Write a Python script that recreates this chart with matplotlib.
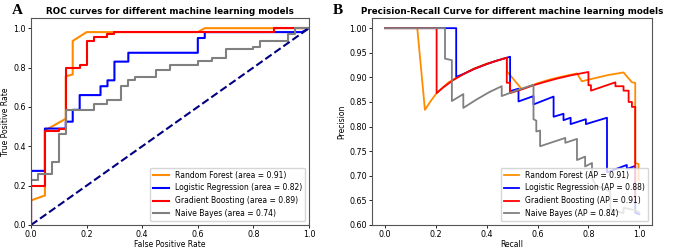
import matplotlib
matplotlib.use("Agg")
import matplotlib.pyplot as plt

# ---- ROC data ----
rf_fpr = [0.0, 0.0, 0.05, 0.05, 0.125, 0.125, 0.15, 0.15, 0.2, 0.6, 0.625, 1.0]
rf_tpr = [0.0, 0.125, 0.15, 0.48, 0.54, 0.755, 0.765, 0.935, 0.98, 0.98, 1.0, 1.0]

lr_fpr = [0.0, 0.0, 0.05, 0.05, 0.125, 0.125, 0.15, 0.15, 0.175, 0.175, 0.25, 0.25,
          0.275, 0.275, 0.3, 0.3, 0.35, 0.35, 0.6, 0.6, 0.625, 0.625, 0.975, 1.0]
lr_tpr = [0.0, 0.275, 0.275, 0.49, 0.49, 0.525, 0.525, 0.585, 0.585, 0.66, 0.66, 0.705,
          0.705, 0.735, 0.735, 0.83, 0.83, 0.875, 0.875, 0.95, 0.95, 0.98, 0.98, 1.0]

gb_fpr = [0.0, 0.0, 0.05, 0.05, 0.1, 0.1, 0.125, 0.125, 0.175, 0.175, 0.2, 0.2,
          0.225, 0.225, 0.275, 0.275, 0.3, 0.3, 0.875, 0.875, 1.0]
gb_tpr = [0.0, 0.2, 0.2, 0.48, 0.48, 0.49, 0.49, 0.8, 0.8, 0.815, 0.815, 0.935,
          0.935, 0.953, 0.953, 0.968, 0.968, 0.982, 0.982, 1.0, 1.0]

nb_fpr = [0.0, 0.0, 0.025, 0.025, 0.075, 0.075, 0.1, 0.1, 0.125, 0.125, 0.225, 0.225,
          0.275, 0.275, 0.325, 0.325, 0.35, 0.35, 0.375, 0.375, 0.45, 0.45, 0.5, 0.5,
          0.6, 0.6, 0.65, 0.65, 0.7, 0.7, 0.8, 0.8, 0.825, 0.825, 0.925, 0.925, 0.95, 0.95, 1.0]
nb_tpr = [0.0, 0.228, 0.228, 0.26, 0.26, 0.32, 0.32, 0.46, 0.46, 0.585, 0.585, 0.613,
          0.613, 0.635, 0.635, 0.706, 0.706, 0.736, 0.736, 0.75, 0.75, 0.787, 0.787, 0.812,
          0.812, 0.832, 0.832, 0.846, 0.846, 0.892, 0.892, 0.905, 0.905, 0.936, 0.936, 0.968, 0.968, 1.0, 1.0]

roc_auc = {"rf": 0.91, "lr": 0.82, "gb": 0.89, "nb": 0.74}

# ---- Precision-Recall data ----
rf_rec = [0.0, 0.127, 0.157, 0.18, 0.203, 0.25, 0.3, 0.35, 0.4, 0.44, 0.48, 0.48,
          0.538, 0.6, 0.65, 0.7, 0.755, 0.774, 0.83, 0.88, 0.938, 0.971, 0.984, 0.984, 0.997, 0.997]
rf_prec = [1.0, 1.0, 0.834, 0.852, 0.868, 0.89, 0.905, 0.918, 0.928, 0.934, 0.94, 0.912,
           0.876, 0.888, 0.896, 0.902, 0.908, 0.892, 0.899, 0.905, 0.91, 0.89, 0.889, 0.726, 0.724, 0.69]

gb_rec = [0.0, 0.203, 0.203, 0.23, 0.27, 0.31, 0.35, 0.4, 0.44, 0.479, 0.479, 0.492,
          0.492, 0.54, 0.584, 0.63, 0.68, 0.73, 0.8, 0.8, 0.81, 0.81, 0.906, 0.906,
          0.938, 0.938, 0.958, 0.958, 0.971, 0.971, 0.984, 0.984]
gb_prec = [1.0, 1.0, 0.868, 0.88, 0.895, 0.907, 0.917, 0.927, 0.934, 0.94, 0.889, 0.889,
           0.868, 0.876, 0.884, 0.891, 0.898, 0.904, 0.911, 0.884, 0.884, 0.873, 0.89, 0.882,
           0.882, 0.873, 0.873, 0.85, 0.85, 0.84, 0.84, 0.65]

lr_rec = [0.0, 0.28, 0.28, 0.31, 0.35, 0.4, 0.44, 0.479, 0.492, 0.492, 0.525, 0.525,
          0.584, 0.584, 0.663, 0.663, 0.702, 0.702, 0.73, 0.73, 0.79, 0.79, 0.873, 0.873,
          0.951, 0.951, 0.984, 0.984, 1.0]
lr_prec = [1.0, 1.0, 0.901, 0.907, 0.917, 0.927, 0.934, 0.94, 0.942, 0.872, 0.877, 0.851,
           0.862, 0.845, 0.861, 0.82, 0.826, 0.813, 0.818, 0.805, 0.815, 0.805, 0.818, 0.707,
           0.722, 0.714, 0.72, 0.625, 0.622]

nb_rec = [0.0, 0.236, 0.236, 0.263, 0.263, 0.308, 0.308, 0.36, 0.41, 0.459, 0.459, 0.52,
          0.584, 0.584, 0.595, 0.595, 0.61, 0.61, 0.709, 0.709, 0.755, 0.755, 0.787, 0.787,
          0.814, 0.814, 0.83, 0.886, 0.886, 0.938, 0.938, 0.984, 1.0]
nb_prec = [1.0, 1.0, 0.938, 0.935, 0.852, 0.866, 0.838, 0.855, 0.87, 0.882, 0.862, 0.874,
           0.885, 0.815, 0.812, 0.79, 0.792, 0.76, 0.777, 0.767, 0.775, 0.732, 0.739, 0.719,
           0.726, 0.695, 0.68, 0.668, 0.632, 0.624, 0.635, 0.63, 0.625]

ap = {"rf": 0.91, "lr": 0.88, "gb": 0.91, "nb": 0.84}

fig = plt.figure(figsize=(6.76, 2.49), dpi=100)
ax1 = fig.add_axes([0.0459, 0.0964, 0.4112, 0.830])
ax2 = fig.add_axes([0.5507, 0.0964, 0.4138, 0.830])

lw = 1.5
ax1.plot(rf_fpr, rf_tpr, color="darkorange", lw=lw, label="Random Forest (area = %0.2f)" % roc_auc["rf"])
ax1.plot(lr_fpr, lr_tpr, color="blue", lw=lw, label="Logistic Regression (area = %0.2f)" % roc_auc["lr"])
ax1.plot(gb_fpr, gb_tpr, color="red", lw=lw, label="Gradient Boosting (area = %0.2f)" % roc_auc["gb"])
ax1.plot(nb_fpr, nb_tpr, color="gray", lw=lw, label="Naive Bayes (area = %0.2f)" % roc_auc["nb"])
ax1.plot([0, 1], [0, 1], color="navy", lw=1.5, linestyle="--")
ax1.set_xlim(0.0, 1.0)
ax1.set_ylim(0.0, 1.05)
ax1.set_xlabel("False Positive Rate", fontsize=5.5, labelpad=0.5)
ax1.set_ylabel("True Positive Rate", fontsize=5.5, labelpad=2)
ax1.set_title("ROC curves for different machine learning models", fontsize=6.3, fontweight="bold", pad=3)
ax1.legend(loc="lower right", fontsize=5.5)

ax2.plot(rf_rec, rf_prec, color="darkorange", lw=1.3, label="Random Forest (AP = %0.2f)" % ap["rf"])
ax2.plot(lr_rec, lr_prec, color="blue", lw=1.3, label="Logistic Regression (AP = %0.2f)" % ap["lr"])
ax2.plot(gb_rec, gb_prec, color="red", lw=1.3, label="Gradient Boosting (AP = %0.2f)" % ap["gb"])
ax2.plot(nb_rec, nb_prec, color="gray", lw=1.3, label="Naive Bayes (AP = %0.2f)" % ap["nb"])
ax2.set_xlim(-0.05, 1.05)
ax2.set_ylim(0.6, 1.02)
ax2.set_xlabel("Recall", fontsize=5.5, labelpad=0.5)
ax2.set_ylabel("Precision", fontsize=5.5, labelpad=2)
ax2.set_title("Precision-Recall Curve for different machine learning models", fontsize=6.3, fontweight="bold", pad=3)
ax2.legend(loc="lower right", fontsize=5.5)

for ax in (ax1, ax2):
    ax.tick_params(labelsize=5.8, length=2.5, width=0.6, pad=1.2)
    for s in ax.spines.values():
        s.set_linewidth(0.8)
        s.set_color("#555555")

fig.text(0.018, 0.985, "A", fontsize=11, fontweight="bold", family="Liberation Serif", va="top")
fig.text(0.493, 0.985, "B", fontsize=11, fontweight="bold", family="Liberation Serif", va="top")

fig.savefig("out.png", dpi=100)
